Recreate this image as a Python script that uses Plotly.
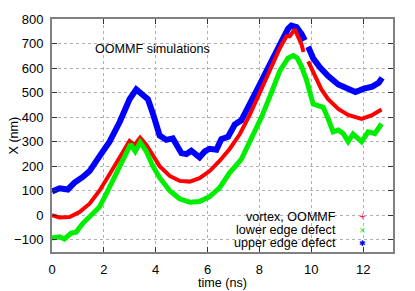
import plotly.graph_objects as go

# vortex, OOMMF (red)
t_vortex = [0, 0.29, 0.68, 1.06, 1.45, 1.83, 2.22, 2.61, 2.99, 3.19, 3.4, 3.64, 3.89, 4.15,
            4.54, 4.92, 5.31, 5.69, 6.08, 6.47, 6.85, 7.24, 7.63, 8.02, 8.4, 8.78, 9.04, 9.17,
            9.36, 9.5, 9.62, 9.7, None, 9.88, 10.14, 10.39, 10.65, 11.04, 11.42, 11.94, 12.32, 12.71]
x_vortex = [0, -9, -7, 13, 47, 100, 167, 240, 303, 287, 316, 287, 247, 200,
            160, 140, 137, 151, 180, 222, 270, 330, 410, 497, 590, 680, 730, 730,
            758, 725, 697, 665, None, 627, 567, 513, 473, 433, 409, 393, 407, 431]

# lower edge defect (green)
t_lower = [0, 0.29, 0.48, 0.74, 0.93, 1.19, 1.58, 1.83, 2.09, 2.48, 2.86, 3.03, 3.21, 3.4,
           3.64, 3.89, 4.15, 4.54, 4.92, 5.31, 5.69, 6.08, 6.47, 6.85, 7.3, 7.69, 8.08, 8.46,
           8.78, 9.1, 9.3, 9.45, 9.62, 9.81, 9.94, 10.07, 10.26, 10.46, 10.65, 10.84, 11.04,
           11.23, 11.42, 11.61, 11.94, 12.19, 12.45, 12.71]
x_lower = [-93, -88, -97, -73, -69, -33, 7, 33, 87, 167, 253, 289, 260, 297,
           260, 200, 153, 100, 67, 53, 56, 76, 113, 173, 228, 313, 400, 500,
           587, 640, 651, 642, 607, 553, 500, 453, 447, 440, 393, 340, 347,
           333, 300, 331, 300, 340, 333, 373]

# upper edge defect (blue)
t_upper = [0, 0.29, 0.61, 0.87, 1.19, 1.45, 1.83, 2.22, 2.61, 2.99, 3.25, 3.51, 3.7, 3.89,
           4.02, 4.15, 4.41, 4.66, 4.99, 5.18, 5.37, 5.57, 5.69, 5.89, 6.08, 6.34, 6.53, 6.79,
           7.05, 7.3, 7.63, 7.95, 8.33, 8.66, 8.85, 9.04, 9.1, 9.23, 9.43, 9.62, 9.75, None,
           9.88, 10.07, 10.33, 10.65, 11.04, 11.36, 11.7, 12.03, 12.35, 12.6, 12.73]
x_upper = [97, 110, 105, 133, 156, 180, 240, 300, 380, 473, 513, 493, 473, 415,
           370, 325, 307, 313, 253, 249, 263, 244, 236, 260, 271, 267, 310, 320,
           370, 387, 450, 520, 600, 673, 713, 752, 760, 773, 767, 740, 713, None,
           687, 640, 603, 567, 533, 518, 502, 516, 524, 540, 560]

x_ticks = [0, 2, 4, 6, 8, 10, 12]
y_ticks = [-100, 0, 100, 200, 300, 400, 500, 600, 700, 800]

FONT = "Liberation Sans, Arial, sans-serif"

fig = go.Figure()
fig.add_trace(go.Scatter(x=t_upper, y=x_upper, mode="lines",
                         line=dict(color="#0000ff", width=6), connectgaps=False,
                         name="upper edge defect"))
fig.add_trace(go.Scatter(x=t_vortex, y=x_vortex, mode="lines",
                         line=dict(color="#ff0000", width=4), connectgaps=False,
                         name="vortex, OOMMF"))
fig.add_trace(go.Scatter(x=t_lower, y=x_lower, mode="lines",
                         line=dict(color="#00ee00", width=5), name="lower edge defect"))

axis_common = dict(
    showgrid=True, gridcolor="#b0b0b0", griddash="dot", gridwidth=1,
    showline=True, linecolor="#808080", linewidth=2, mirror="ticks",
    ticks="inside", ticklen=5, tickcolor="#333333", tickwidth=1,
    zeroline=False, tickfont=dict(family=FONT, size=13, color="black"),
)

fig.update_xaxes(range=[0, 13.15], tickvals=x_ticks, ticklabelstandoff=4, **axis_common)
fig.update_yaxes(range=[-150, 800], tickvals=y_ticks, ticklabelstandoff=4, **axis_common)

annotations = [
    dict(text="OOMMF simulations", x=0.12, y=0.873, xref="paper", yref="paper",
         xanchor="left", yanchor="middle", showarrow=False,
         font=dict(family=FONT, size=12.6, color="black")),
    dict(text="time (ns)", x=0.5, y=-(284 - 252) / 237, xref="paper", yref="paper",
         yanchor="middle", showarrow=False, font=dict(family=FONT, size=12.6, color="black")),
    dict(text="X (nm)", x=-(52 - 13) / 341, y=0.5, xref="paper", yref="paper",
         textangle=-90, xanchor="center", yanchor="middle", showarrow=False,
         font=dict(family=FONT, size=12.6, color="black")),
]

legend_items = [("vortex, OOMMF", "+", "#ff0000", 216),
                ("lower edge defect", "×", "#00ee00", 230),
                ("upper edge defect", "✱", "#0000ff", 243)]
for label, sym, col, py in legend_items:
    yp = (252 - py) / 237
    annotations.append(dict(text=label, x=(338 - 52) / 341, y=yp, xref="paper", yref="paper",
                            xanchor="right", yanchor="middle", showarrow=False,
                            font=dict(family=FONT, size=12.6, color="black")))
    annotations.append(dict(text=sym, x=(362 - 52) / 341, y=yp, xref="paper", yref="paper",
                            xanchor="center", yanchor="middle", showarrow=False,
                            font=dict(family="DejaVu Sans", size=8, color=col)))

fig.update_layout(
    width=415, height=291,
    margin=dict(l=52, r=22, t=15, b=39),
    paper_bgcolor="white", plot_bgcolor="white",
    showlegend=False,
    annotations=annotations,
)

fig.write_html("out.html", config={"displayModeBar": False},
               post_script="document.body.style.margin='0';document.body.style.overflow='hidden';")
